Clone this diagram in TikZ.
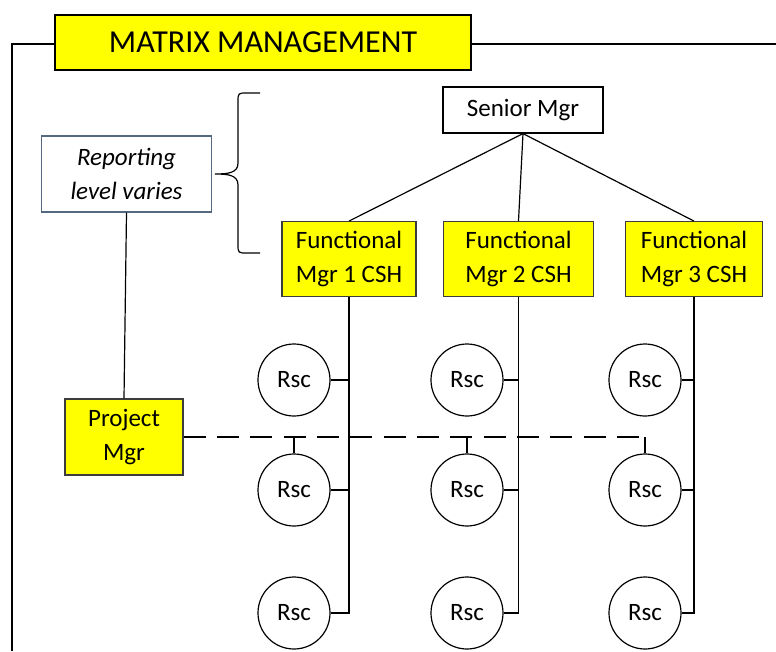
\documentclass[tikz,border=0pt]{standalone}
\usepackage{fontspec}
\setmainfont{Carlito}
\usepackage{tikz}
\definecolor{boxyellow}{RGB}{255, 255, 0}
\definecolor{slateedge}{RGB}{84, 104, 128}
\definecolor{boxedge}{RGB}{60, 60, 60}

\begin{document}
\begin{tikzpicture}[
    x=0.75pt, y=-0.75pt,
    txt/.style={font=\fontsize{18.75}{25.5}\selectfont, align=center, inner sep=0pt},
    banner/.style={rectangle, draw=black, line width=1.8pt, fill=boxyellow,
                minimum width=312pt, minimum height=41pt, inner sep=0pt,
                font=\fontsize{24}{28}\selectfont},
    top/.style={rectangle, draw=black, line width=0.9pt, fill=white,
                minimum width=120pt, minimum height=34.5pt, txt},
    note/.style={rectangle, draw=slateedge, line width=0.9pt, fill=white,
                minimum width=128pt, minimum height=57pt, txt, font=\fontsize{18.75}{25.5}\selectfont\itshape},
    func/.style={rectangle, draw=boxedge, line width=0.9pt, fill=boxyellow,
                minimum height=56pt, txt},
    rsc/.style={circle, draw=black, line width=0.9pt, minimum size=54pt, txt},
    link/.style={line width=0.9pt},
    dashline/.style={line width=2.2pt, dash pattern=on 16.5pt off 8.5pt}
]
\useasboundingbox (0,0) rectangle (776,651);

% outer frame behind the banner
\draw[line width=1.8pt] (12,651) |- (776,44);
\node[banner] (title) at (263,42.5) {MATRIX MANAGEMENT};

\node[top]  (senior) at (523,110)   {Senior Mgr};
\node[note] (report) at (126.5,174) {Reporting\\level varies};
\node[func, minimum width=100.5pt] (fm1) at (349,259)   {Functional\\Mgr 1 CSH};
\node[func, minimum width=113pt]   (fm2) at (518.5,259) {Functional\\Mgr 2 CSH};
\node[func, minimum width=103pt]   (fm3) at (694,259)   {Functional\\Mgr 3 CSH};
\node[func, minimum width=88.5pt, minimum height=57pt] (pm) at (124,437) {Project\\Mgr};

% resources: columns 1..3, rows 1..3
\foreach \c/\x in {1/294, 2/467, 3/645}
  \foreach \r/\y in {1/380, 2/490, 3/613}
    \node[rsc] (r\r\c) at (\x,\y) {Rsc};

% curly brace between the two levels
\draw[link] (260,93) -- (247,93) .. controls (238,93) .. (238,102)
  -- (238,163) .. controls (238,173) and (228,174) .. (215,174)
  .. controls (228,174) and (238,175) .. (238,185)
  -- (238,244) .. controls (238,253) .. (247,253) -- (260,253);

\draw[link] (senior.south) -- (fm1.north);
\draw[link] (senior.south) -- (fm2.north);
\draw[link] (senior.south) -- (fm3.north);
\draw[link] (report.south) -- (pm.north);

\foreach \c in {1,2,3} {
  \draw[link] (fm\c.south) |- (r3\c.east);
  \draw[link] (r1\c.east) -- (r1\c.east -| fm\c.south);
  \draw[link] (r2\c.east) -- (r2\c.east -| fm\c.south);
  \draw[link] (r2\c.north) -- (r2\c.north |- pm.east);
}
\draw[dashline] (pm.east) -- (pm.east -| r23.north);

\end{tikzpicture}
\end{document}
